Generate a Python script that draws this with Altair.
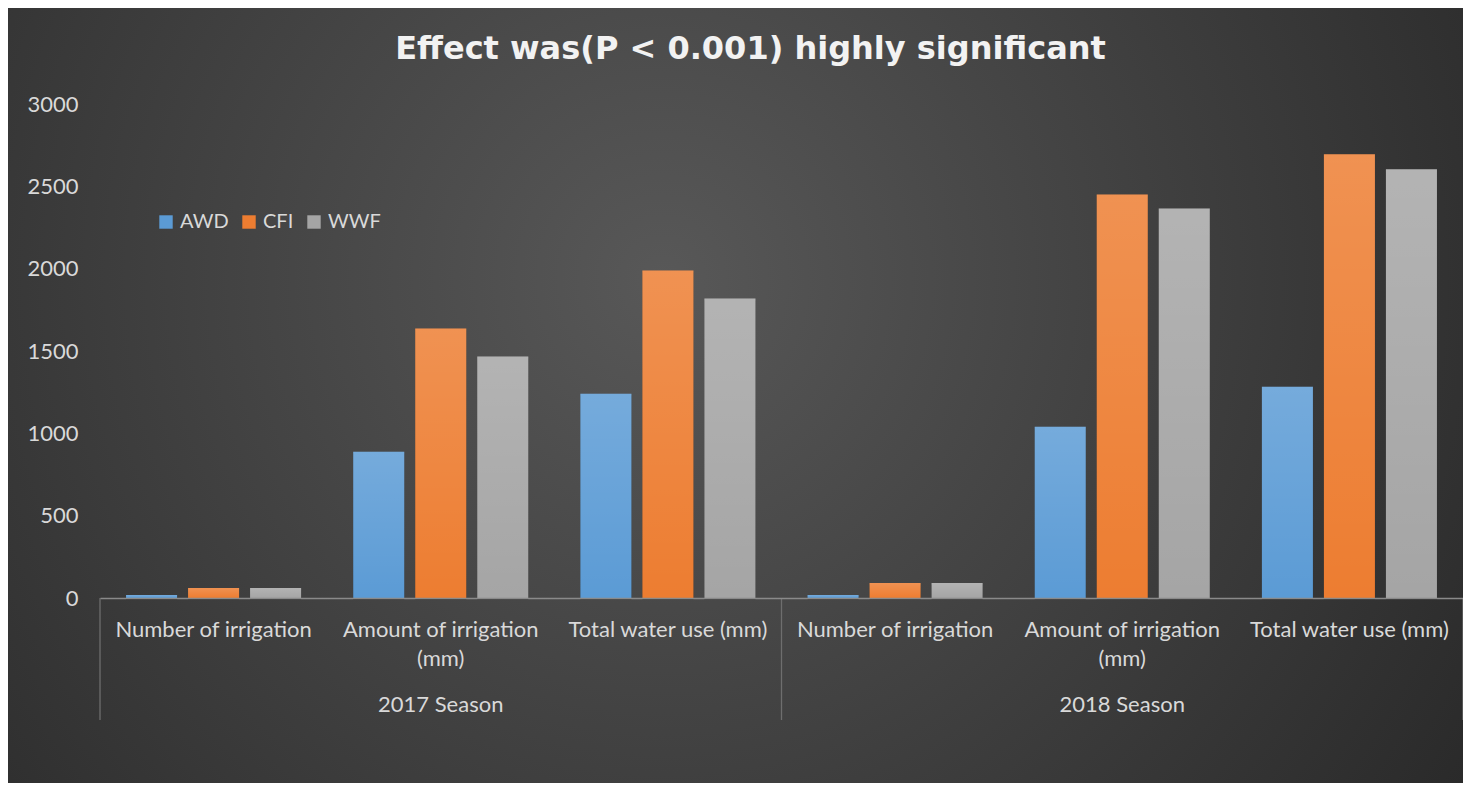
import altair as alt
import pandas as pd

# ---- data ----
title_text = ["Effect was(P < 0.001) highly significant"]
seasons = ["2017 Season", "2018 Season"]
measures = ["Number of irrigation", "Amount of irrigation (mm)", "Total water use (mm)"]
measure_lines = [["Number of irrigation"], ["Amount of irrigation", "(mm)"], ["Total water use (mm)"]]
series = ["AWD", "CFI", "WWF"]
colors = ["#5B9BD5", "#ED7D31", "#A5A5A5"]
awd = [18, 888, 1241, 18, 1040, 1283]
cfi = [61, 1636, 1989, 91, 2451, 2695]
wwf = [61, 1466, 1819, 91, 2366, 2603]
y_ticks = [0, 500, 1000, 1500, 2000, 2500, 3000]

FONT = "Lato"
TXT = "#d9d9d9"
W, H = 1363, 494
PAD = {"left": 92, "top": 96, "right": 0, "bottom": 185}

cats = [f"{s}|{m}" for s in seasons for m in measures]
rows = []
for i, c in enumerate(cats):
    for name, vals in zip(series, [awd, cfi, wwf]):
        rows.append({"cat": c, "series": name, "value": vals[i]})
df = pd.DataFrame(rows)

lab_df = pd.DataFrame({"cat": cats, "lines": measure_lines * 2})
season_df = pd.DataFrame({"cat": [cats[1], cats[4]], "season": seasons})
sep_start = pd.DataFrame({"cat": [cats[0], cats[3]]})
sep_end = pd.DataFrame({"cat": [cats[5]]})
bg_df = pd.DataFrame({"k": [0]})
title_df = pd.DataFrame({"t": title_text})

x_scale = alt.Scale(domain=cats, paddingInner=0, paddingOuter=0)
x_axis = alt.Axis(labels=False, ticks=False, title=None, domainColor="#8a8a8a",
                  domainWidth=1.3, grid=False, zindex=1)
y_scale = alt.Scale(domain=[0, 3000], nice=False)
y_axis = alt.Axis(values=y_ticks, format="d", title=None, grid=False, domain=False, ticks=False,
                  labelPadding=22, labelFontSize=22, labelColor=TXT, labelFont=FONT, zindex=1)

def xe(**kw):
    return alt.X("cat:N", scale=x_scale, axis=x_axis, **kw)

off = alt.XOffset("series:N", scale=alt.Scale(domain=series, paddingInner=0.177, paddingOuter=0.42))

background = alt.Chart(bg_df).mark_rect(
    fill={"gradient": "radial", "x1": 0.45, "y1": 0.42, "r1": 0, "x2": 0.45, "y2": 0.42, "r2": 0.75,
          "stops": [{"offset": 0, "color": "#585858"}, {"offset": 1, "color": "#232323"}]}
).encode(
    x=alt.value(-PAD["left"]), x2=alt.value(W + PAD["right"]),
    y=alt.value(-PAD["top"]), y2=alt.value(H + PAD["bottom"])
)

title = alt.Chart(title_df).mark_text(
    font="DejaVu Sans", fontSize=32, fontWeight="bold", color="#f2f2f2", baseline="middle",
    align="center"
).encode(x=alt.value(W / 2 - 31), y=alt.value(-55), text="t:N")

shadow = alt.Chart(df).mark_bar(color="black", opacity=0.22, xOffset=4, yOffset=2).encode(
    x=xe(), xOffset=off, y=alt.Y("value:Q", scale=y_scale, axis=y_axis))

bars = alt.Chart(df).mark_bar().encode(
    x=xe(), xOffset=off,
    y=alt.Y("value:Q", scale=y_scale, axis=y_axis),
    color=alt.Color("series:N", scale=alt.Scale(domain=series, range=colors),
                    legend=alt.Legend(orient="none", legendX=56, legendY=108, direction="horizontal",
                                      title=None, symbolType="square", symbolSize=180,
                                      labelFontSize=20, labelColor=TXT, labelFont=FONT,
                                      symbolStrokeWidth=0, columnPadding=10, labelOffset=4,
                                      zindex=1))
)

shine = alt.Chart(df).mark_bar(
    fill={"gradient": "linear", "x1": 0, "y1": 0, "x2": 0, "y2": 1,
          "stops": [{"offset": 0, "color": "rgba(255,255,255,0.16)"},
                    {"offset": 1, "color": "rgba(255,255,255,0)"}]}
).encode(x=xe(), xOffset=off, y=alt.Y("value:Q", scale=y_scale, axis=y_axis))

sep1 = alt.Chart(sep_start).mark_rule(color="#6e6e6e", strokeWidth=1.3).encode(
    x=xe(bandPosition=0), y=alt.value(H), y2=alt.value(H + 122))
sep2 = alt.Chart(sep_end).mark_rule(color="#6e6e6e", strokeWidth=1.3).encode(
    x=xe(bandPosition=1), y=alt.value(H), y2=alt.value(H + 122))

cat_text = alt.Chart(lab_df).mark_text(baseline="top", fontSize=22, color=TXT, font=FONT,
                                       lineHeight=29).encode(
    x=xe(), y=alt.value(H + 22), text="lines:N")
season_text = alt.Chart(season_df).mark_text(baseline="middle", fontSize=22, color=TXT,
                                             font=FONT).encode(
    x=xe(), y=alt.value(H + 107), text="season:N")

chart = alt.layer(background, title, shadow, bars, shine, sep1, sep2, cat_text,
                  season_text).properties(
    width=W, height=H,
    autosize=alt.AutoSizeParams(type="none"),
    padding=PAD,
).configure(background="#2a2a2a").configure_view(stroke=None)

chart.save("out.html", embed_options={"renderer": "svg", "actions": False})
